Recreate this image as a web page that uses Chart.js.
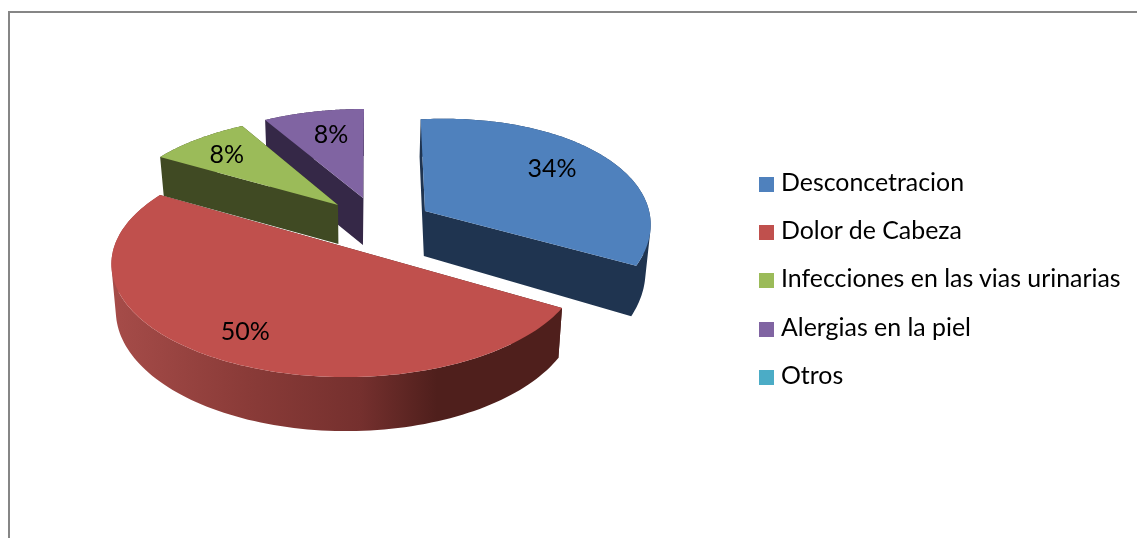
<!DOCTYPE html>
<html>
<head>
<meta charset="utf-8">
<title>Pie</title>
<script src="https://cdn.jsdelivr.net/npm/chart.js@4/dist/chart.umd.min.js"></script>
<style>
  html, body { margin: 0; padding: 0; background: #fff; overflow: hidden; width: 1137px; height: 538px; }
  #frame { position: absolute; left: 8px; top: 11px; width: 1300px; height: 700px; border: 2px solid #868686; }
  #chart { position: absolute; left: 0; top: 0; }
  #legend { position: absolute; left: 759px; top: 157px; margin: 0; padding: 0; list-style: none;
    font: 24.9px Lato, sans-serif; color: #000; }
  #legend li { height: 48.2px; line-height: 48.2px; white-space: nowrap; }
  #legend span { display: inline-block; width: 15px; height: 15px; margin-right: 7px; vertical-align: -1px; }
</style>
</head>
<body>
<div id="frame"></div>
<canvas id="chart" width="1137" height="538"></canvas>
<ul id="legend"></ul>
<script>
const categories = ['Desconcetracion', 'Dolor de Cabeza', 'Infecciones en las vias urinarias', 'Alergias en la piel', 'Otros'];
const percentages = [34, 50, 8, 8, 0];
const sliceColors = ['#4f81bd', '#c0504d', '#9bbb59', '#8064a2', '#4bacc6'];
const wallColors = ['#1f3450', '#4f1f1c', '#404a23', '#352847', '#2a6a7c'];

// the picture is a 3D pie in perspective, every slice is pulled out on its own,
// so each one gets its own mapping of the unit disc to the page
const views = [
  { x: 425, y: 211, a: 220, e: 5.2, f: -11.8, b: 110, p: 0.2, depth: 45, labelR: 0.72, dx: -1, dy: 1 },
  { x: 345, y: 247, a: 232, e: 7.2, f: -3.8, b: 110.7, p: 0.1485, depth: 46, labelR: 0.77, dx: 1, dy: 4 },
  { x: 338, y: 205, a: 217, e: -10, f: -0.7, b: 90.6, p: 0, depth: 39, labelR: 0.78, dx: -1, dy: 1 },
  { x: 363, y: 198, a: 205, e: -1, f: 0, b: 89, p: 0, depth: 47, labelR: 0.74, dx: 5, dy: 1 },
  { x: 345, y: 247, a: 232, e: 0, f: 0, b: 110, p: 0.15, depth: 46, labelR: 0.75, dx: 0, dy: 0 }
];
const drawOrder = [3, 2, 0, 1];

function project(view, angle, r) {
  const u = Math.cos(angle) * r;
  const v = Math.sin(angle) * r;
  const d = 1 - view.p * v;
  return {
    x: view.x + (view.a * u + view.e * v) / d,
    y: view.y + (view.f * u + view.b * v) / d,
    d: d
  };
}

// the sides lean in a little going down
function lower(view, pt) {
  return { x: pt.x + (360 - pt.x) * 0.018, y: pt.y + view.depth / pt.d };
}

function signedArea(pts) {
  var sum = 0;
  pts.forEach((pt, i) => {
    const next = pts[(i + 1) % pts.length];
    sum += pt.x * next.y - next.x * pt.y;
  });
  return sum;
}

// all pieces go in one path with the same winding, so they fill as one shape without seams
function fillPieces(ctx, pieces, fill) {
  ctx.beginPath();
  pieces.forEach((piece) => {
    const pts = signedArea(piece) < 0 ? piece.slice().reverse() : piece;
    pts.forEach((pt, i) => {
      if (i == 0) ctx.moveTo(pt.x, pt.y);
      else ctx.lineTo(pt.x, pt.y);
    });
    ctx.closePath();
  });
  ctx.fillStyle = fill;
  ctx.fill();
}

function redRim(ctx) {
  var grad = ctx.createLinearGradient(112, 0, 563, 0);
  grad.addColorStop(0, '#a64c49');
  grad.addColorStop(0.3, '#8a3b38');
  grad.addColorStop(0.55, '#75302e');
  grad.addColorStop(0.72, '#4f1f1c');
  grad.addColorStop(1, '#4f1f1c');
  return grad;
}

const pie3d = {
  id: 'pie3d',
  beforeDatasetsDraw(chart) {
    const ctx = chart.ctx;
    const arcs = chart.getDatasetMeta(0).data;
    drawOrder.forEach((i) => {
      const arc = arcs[i];
      const view = views[i];
      const rim = [];
      for (var s = 0; s <= 120; s++) {
        rim.push(project(view, arc.startAngle + (arc.endAngle - arc.startAngle) * s / 120, 1));
      }
      const apex = project(view, 0, 0);
      const first = rim[0];
      const last = rim[rim.length - 1];
      const radial = [
        [apex, first, lower(view, first), lower(view, apex)],
        [apex, last, lower(view, last), lower(view, apex)]
      ];
      const sweep = [];
      for (var k = 0; k < rim.length - 1; k++) {
        sweep.push([rim[k], rim[k + 1], lower(view, rim[k + 1]), lower(view, rim[k])]);
      }
      if (i == 1) {
        fillPieces(ctx, radial, wallColors[i]);
        fillPieces(ctx, sweep, redRim(ctx));
      } else {
        fillPieces(ctx, radial.concat(sweep), wallColors[i]);
      }
      fillPieces(ctx, [[apex].concat(rim)], sliceColors[i]);
    });

    ctx.fillStyle = '#000';
    ctx.font = '25px Lato, sans-serif';
    ctx.textAlign = 'center';
    ctx.textBaseline = 'middle';
    drawOrder.forEach((i) => {
      const arc = arcs[i];
      const spot = project(views[i], (arc.startAngle + arc.endAngle) / 2, views[i].labelR);
      ctx.fillText(percentages[i] + '%', spot.x + views[i].dx, spot.y + views[i].dy);
    });
    return false;
  }
};

new Chart(document.getElementById('chart'), {
  type: 'pie',
  data: {
    labels: categories,
    datasets: [{ data: percentages, backgroundColor: sliceColors, borderWidth: 0 }]
  },
  options: {
    responsive: false,
    animation: false,
    events: [],
    rotation: 0,
    plugins: { legend: { display: false }, tooltip: { enabled: false } }
  },
  plugins: [pie3d]
});

var legend = document.getElementById('legend');
for (var i = 0; i < categories.length; i++) {
  var row = document.createElement('li');
  var box = document.createElement('span');
  box.style.background = sliceColors[i];
  row.appendChild(box);
  row.appendChild(document.createTextNode(categories[i]));
  legend.appendChild(row);
}
</script>
</body>
</html>
